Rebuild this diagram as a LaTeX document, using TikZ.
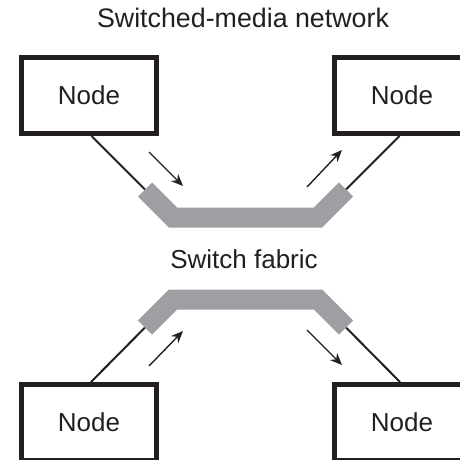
\documentclass[tikz,border=0pt]{standalone}
\usepackage{fontspec}
\setmainfont{Liberation Sans}
\usetikzlibrary{arrows.meta}
\definecolor{fabric}{RGB}{158,159,162}
\definecolor{ink}{RGB}{35,31,32}
\begin{document}
\begin{tikzpicture}[x=1pt,y=-1pt,
  nodebox/.style={draw=ink, text=ink, line width=5pt, minimum width=135pt, minimum height=76pt, inner sep=0pt, font=\fontsize{26}{30}\selectfont},
  lbl/.style={text=ink, font=\fontsize{26}{30}\selectfont, inner sep=0pt, anchor=base},
  band/.style={draw=fabric, line width=20pt},
  link/.style={draw=ink, line width=2pt},
  flow/.style={draw=ink, line width=1.4pt, -{Stealth[length=12pt,width=10pt]}}]
\useasboundingbox (0,0) rectangle (459,460);
% title and label
\node[lbl, font=\fontsize{26.8}{30}\selectfont] (title) at (243,28) {Switched-media network};
\node[lbl] (fab) at (244,268) {Switch fabric};
% nodes
\node[nodebox] (tl) at (89,95.5) {Node};
\node[nodebox] (tr) at (402,95.5) {Node};
\node[nodebox] (bl) at (89,422.5) {Node};
\node[nodebox] (br) at (402,422.5) {Node};
% fabric ends and corners
\coordinate (e1) at (145,189.5);
\coordinate (c1) at (173,217.5);
\coordinate (c2) at (318,217.5);
\coordinate (e2) at (346,189.5);
\coordinate (e3) at (145,327.5);
\coordinate (c3) at (173,299.5);
\coordinate (c4) at (318,299.5);
\coordinate (e4) at (346,327.5);
% links
\draw[link] (e1) -- ([xshift=2.5pt]tl.south);
\draw[link] (e2) -- ([xshift=-2.5pt]tr.south);
\draw[link] (e3) -- ([xshift=2pt]bl.north);
\draw[link] (e4) -- ([xshift=-2pt]br.north);
% fabric
\draw[band] (e1) -- (c1) -- (c2) -- (e2);
\draw[band] (e3) -- (c3) -- (c4) -- (e4);
% flow arrows
\coordinate (a1s) at (149,152); \coordinate (a1e) at (183,186);
\coordinate (a2s) at (307,187); \coordinate (a2e) at (342,150);
\coordinate (a3s) at (149,366); \coordinate (a3e) at (183,331);
\coordinate (a4s) at (307,330); \coordinate (a4e) at (342,365);
\draw[flow] (a1s) -- (a1e);
\draw[flow] (a2s) -- (a2e);
\draw[flow] (a3s) -- (a3e);
\draw[flow] (a4s) -- (a4e);
\end{tikzpicture}
\end{document}
